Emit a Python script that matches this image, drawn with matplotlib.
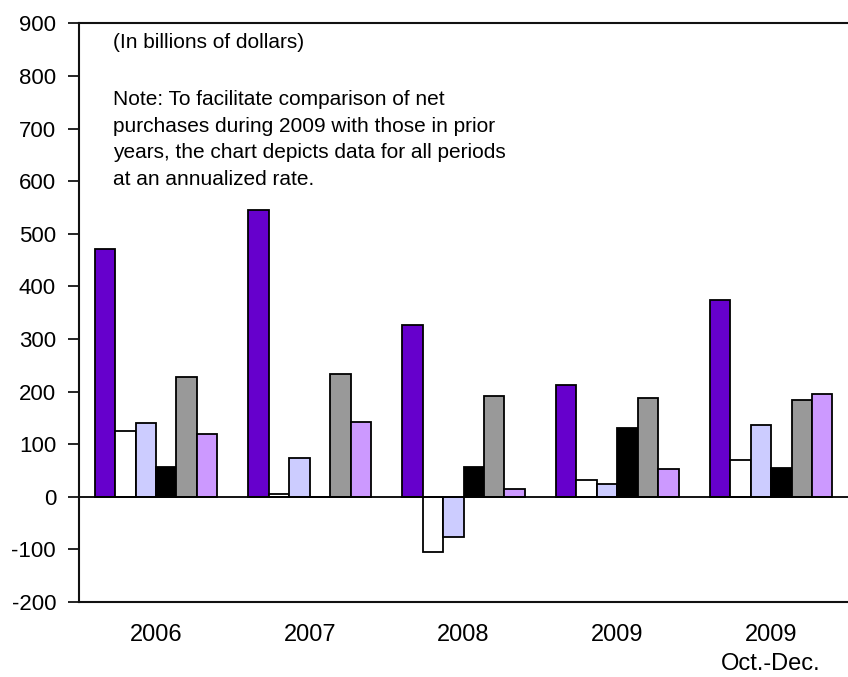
import numpy as np
import matplotlib.pyplot as plt

# Periods on the x axis
periods = ['2006', '2007', '2008', '2009', '2009\nOct.-Dec.']

# Net purchases, billions of dollars at annualized rate (six series per period)
series_a = [472, 546, 327, 212, 375]
series_b = [126, 5, -104, 32, 70]
series_c = [140, 74, -76, 24, 136]
series_d = [57, 0, 57, 130, 54]
series_e = [227, 233, 192, 188, 185]
series_f = [119, 143, 15, 53, 195]

all_series = [series_a, series_b, series_c, series_d, series_e, series_f]
colors = ['#6600CC', '#FFFFFF', '#CCCCFF', '#000000', '#999999', '#CC99FF']

plt.rcParams['font.family'] = ['Liberation Sans', 'DejaVu Sans']
plt.rcParams['axes.unicode_minus'] = False

fig = plt.figure(figsize=(8.48, 6.77), dpi=100)
ax = fig.add_axes([0.0932, 0.1108, 0.9068, 0.8545])

x = np.arange(len(periods))
width = 0.1327
for i, (vals, col) in enumerate(zip(all_series, colors)):
    offset = (i - 2.5) * width
    ax.bar(x + offset, vals, width, color=col, edgecolor='black', linewidth=1.3)

ax.axhline(0, color='black', linewidth=1.3)

ax.set_xlim(-0.5, len(periods) - 0.5)
ax.set_ylim(-200, 900)
ax.set_yticks(np.arange(-200, 901, 100))
ax.tick_params(axis='y', direction='out', length=8, width=1.2, labelsize=16, pad=8.5)
ax.set_xticks(x)
ax.set_xticklabels(periods, fontsize=17, va='top', linespacing=1.4)
ax.tick_params(axis='x', length=0, pad=16)

for side in ['top', 'left', 'bottom']:
    ax.spines[side].set_linewidth(1.5)
    ax.spines[side].set_color('#111111')
ax.spines['right'].set_visible(False)

# Units and note in the upper left
ax.text(0.0442, 0.967, '(In billions of dollars)', transform=ax.transAxes,
        fontsize=15, va='center', ha='left')
ax.text(0.0442, 0.885,
        'Note: To facilitate comparison of net\n'
        'purchases during 2009 with those in prior\n'
        'years, the chart depicts data for all periods\n'
        'at an annualized rate.',
        transform=ax.transAxes, fontsize=15, va='top', ha='left', linespacing=1.5)

plt.savefig('out.png', dpi=100, facecolor='white')
